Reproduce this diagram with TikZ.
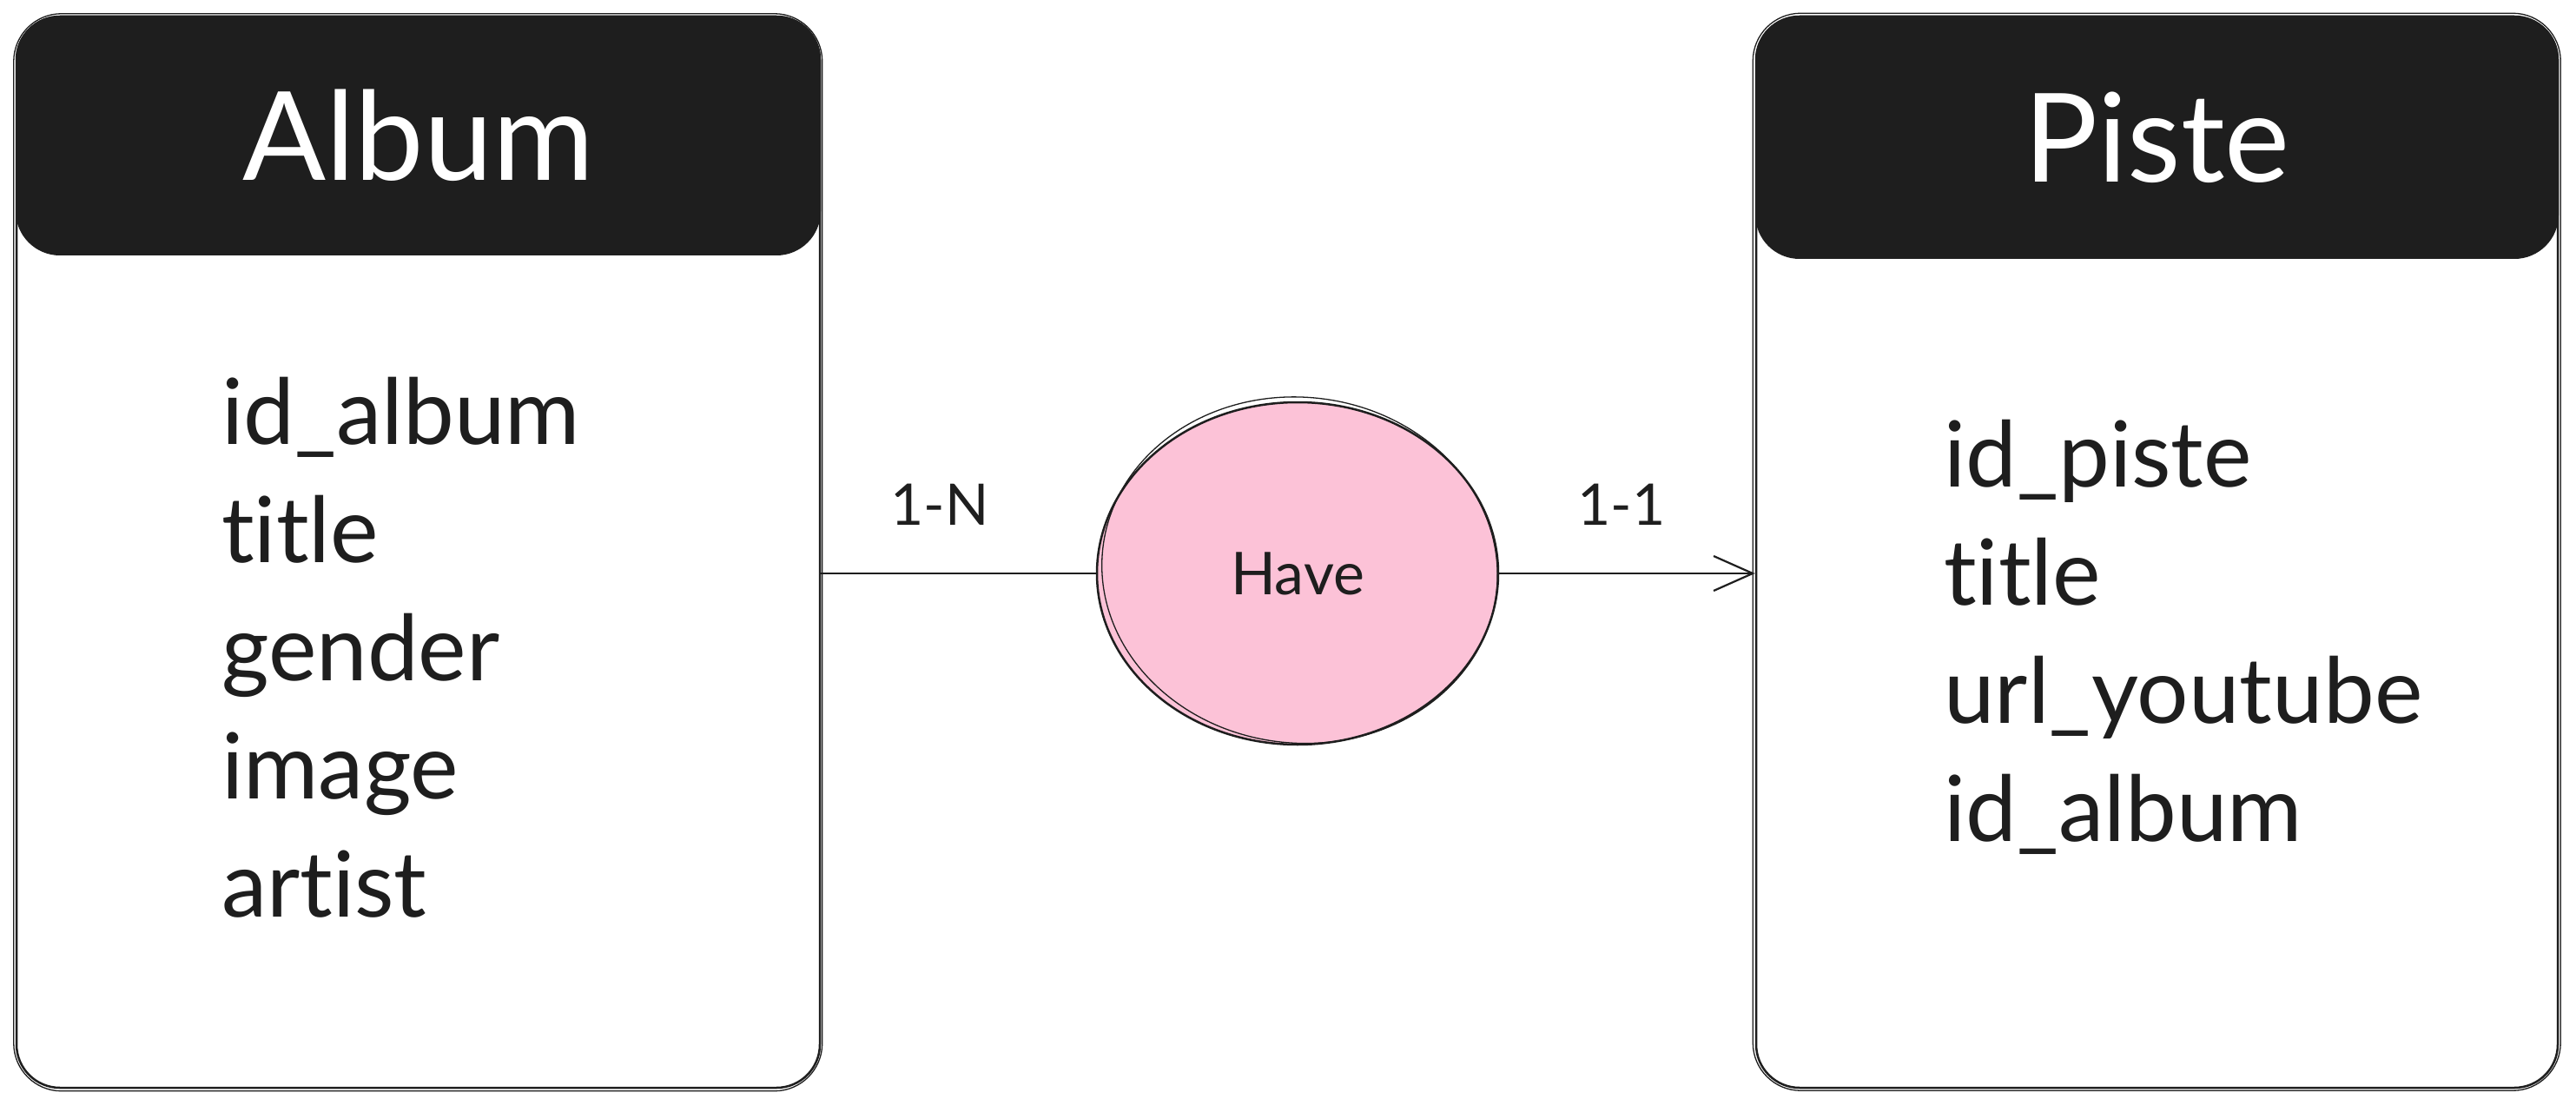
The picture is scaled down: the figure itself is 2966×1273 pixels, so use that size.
\documentclass[tikz,border=0pt]{standalone}
\usepackage{fontspec}
\setmainfont{Lato}[Ligatures={NoCommon,NoContextual}]
\usetikzlibrary{arrows.meta,shapes.geometric}
\definecolor{ink}{HTML}{1E1E1E}
\definecolor{rose}{HTML}{FCC2D7}
\begin{document}
\begin{tikzpicture}[x=1pt,y=-1pt, line join=round, line cap=round,
  entity/.style={draw=ink, line width=2.5pt, rounded corners=50pt, minimum height=1233pt, inner sep=0pt},
  header/.style={fill=ink, draw=ink, line width=2pt, rounded corners=50pt, text=white, font=\fontsize{142}{142}\selectfont, inner sep=0pt},
  sketch/.style={draw=ink, line width=1.3pt, rounded corners=55pt},
  attr/.style={anchor=base west, text=ink, font=\fontsize{105}{105}\selectfont, inner sep=0pt},
  rel/.style={ellipse, draw=ink, fill=rose, line width=2.5pt, minimum width=462pt, minimum height=394pt, inner sep=0pt, text=ink, font=\fontsize{68}{68}\selectfont},
  card/.style={text=ink, font=\fontsize{66}{66}\selectfont, inner sep=0pt},
  link/.style={draw=ink, line width=2.5pt}]
\useasboundingbox (0,0) rectangle (2966,1273);
\fill[white] (0,0) rectangle (2966,1273);

% Album entity
\node[entity, minimum width=925pt] (album) at (481.5,635.5) {};
\draw[sketch] ([xshift=-2pt,yshift=2pt]album.north west) rectangle ([xshift=1.5pt,yshift=-2.5pt]album.south east);
\node[header, minimum width=925pt, minimum height=274pt] (albumhead) at (481.5,156) {Album};
\node[attr] (a1) at (255,511) {id\_album};
\node[attr] (a2) at (255,647) {title};
\node[attr] (a3) at (255,783) {gender};
\node[attr] (a4) at (255,919) {image};
\node[attr] (a5) at (255,1055) {artist};

% Piste entity
\node[entity, minimum width=923pt] (piste) at (2483.5,635.5) {};
\draw[sketch] ([xshift=-2.5pt,yshift=2.5pt]piste.north west) rectangle ([xshift=2pt,yshift=-2pt]piste.south east);
\node[header, minimum width=923pt, minimum height=278pt] (pistehead) at (2483.5,158) {Piste};
\node[attr] (p1) at (2238,560) {id\_piste};
\node[attr] (p2) at (2238,696) {title};
\node[attr] (p3) at (2238,832) {url\_youtube};
\node[attr] (p4) at (2238,968) {id\_album};

% Relationship
\node[rel] (have) at (1494,660) {Have};
\draw[draw=ink, line width=1.3pt, rotate around={-6:(1494,660)}] (1496,656) ellipse (228pt and 199pt);

% Connectors
\draw[link] (have.west) -- (have.west -| album.east);
\draw[link, -{Straight Barb[length=45pt,width=40pt,line width=2.2pt]}] (have.east) -- (have.east -| piste.west);

% Cardinalities
\node[card] (c1) at (1082,581) {1-N};
\node[card] (c2) at (1867,581) {1-1};
\end{tikzpicture}
\end{document}
